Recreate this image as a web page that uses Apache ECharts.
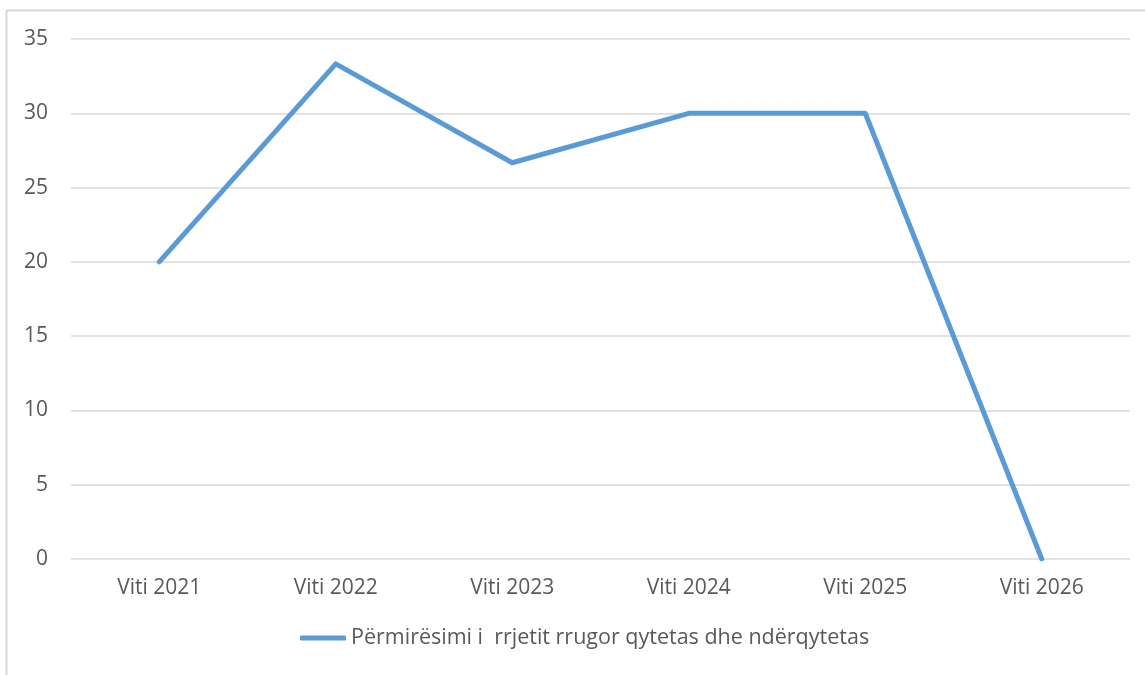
<!DOCTYPE html>
<html>
<head>
<meta charset="utf-8">
<script src="https://cdn.jsdelivr.net/npm/echarts@6/dist/echarts.min.js"></script>
<style>
  html, body { margin: 0; padding: 0; background: #fff; }
  #chart { width: 1145px; height: 675px; }
</style>
</head>
<body>
<div id="chart"></div>
<script>
const years = ['Viti 2021', 'Viti 2022', 'Viti 2023', 'Viti 2024', 'Viti 2025', 'Viti 2026'];
const values = [20, 33.33, 26.67, 30, 30, 0];
const seriesName = 'Përmirësimi i  rrjetit rrugor qytetas dhe ndërqytetas';

const chart = echarts.init(document.getElementById('chart'));
const font = '"Open Sans", sans-serif';

chart.setOption({
    backgroundColor: '#fff',
    animation: false,
    graphic: [{
        type: 'rect',
        shape: { x: 6.5, y: 10.5, width: 1200, height: 700 },
        style: { fill: 'none', stroke: '#d9d9d9', lineWidth: 2 },
        silent: true
    }],
    grid: { left: 71, right: 15, top: 39, bottom: 116, containLabel: false },
    legend: {
        bottom: 21,
        left: 295,
        itemWidth: 46,
        itemHeight: 5,
        icon: 'roundRect',
        textStyle: { color: '#595959', fontSize: 21.5, fontFamily: font },
        data: [seriesName]
    },
    xAxis: {
        type: 'category',
        data: years,
        boundaryGap: true,
        axisLine: { show: false },
        axisTick: { show: false },
        axisLabel: { color: '#595959', fontSize: 21, fontFamily: font, margin: 19 }
    },
    yAxis: {
        type: 'value',
        min: 0,
        max: 35,
        interval: 5,
        axisLine: { show: false },
        axisTick: { show: false },
        axisLabel: { color: '#595959', fontSize: 21, fontFamily: font, margin: 23 },
        splitLine: { lineStyle: { color: '#d9d9d9', width: 1.5 } }
    },
    series: [{
        name: seriesName,
        type: 'line',
        data: values,
        symbol: 'none',
        lineStyle: { color: '#5b9bd5', width: 5, cap: 'round', join: 'round' },
        itemStyle: { color: '#5b9bd5' }
    }]
});
</script>
</body>
</html>
